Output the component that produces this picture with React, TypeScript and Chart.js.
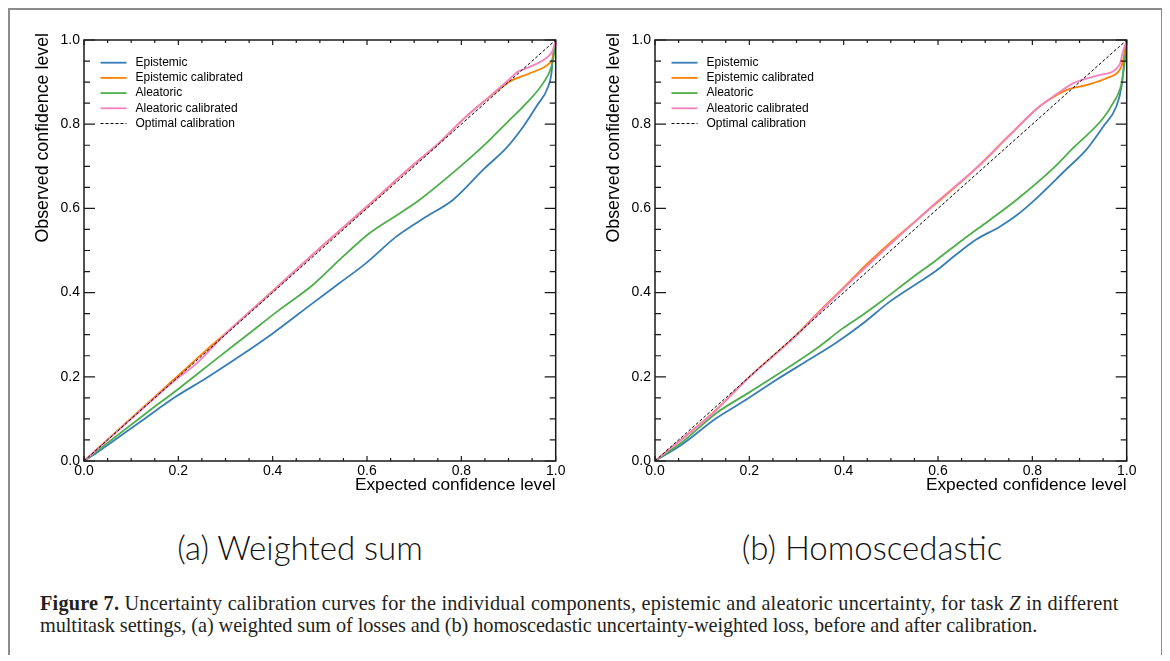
import React, { useEffect, useRef } from 'react';
import { Chart, registerables } from 'chart.js';

Chart.register(...registerables);

const SANS = "'Liberation Sans', Arial, Helvetica, sans-serif";

const seriesLabels = ['Epistemic', 'Epistemic calibrated', 'Aleatoric', 'Aleatoric calibrated', 'Optimal calibration'];
const seriesColors = ['#377eb8', '#ff7f00', '#4daf4a', '#f781bf', '#000000'];
const xAxisTitle = 'Expected confidence level';
const yAxisTitle = 'Observed confidence level';
const subTitles = ['(a) Weighted sum', '(b) Homoscedastic'];

// ---------- (a) Weighted sum ----------
const aEpiX = [0, 0.03, 0.124, 0.195, 0.258, 0.329, 0.4, 0.485, 0.541, 0.598, 0.662, 0.725, 0.782, 0.849, 0.895, 0.931, 0.959, 0.984, 0.991, 0.994, 0.998, 1.0];
const aEpiY = [0, 0.022, 0.097, 0.153, 0.196, 0.248, 0.303, 0.375, 0.422, 0.47, 0.533, 0.58, 0.62, 0.695, 0.743, 0.794, 0.842, 0.889, 0.921, 0.96, 0.985, 1.0];

const aEpiCalX = [0, 0.1, 0.2, 0.258, 0.3, 0.4, 0.5, 0.6, 0.69, 0.754, 0.81, 0.86, 0.902, 0.945, 0.987, 0.993, 1.0];
const aEpiCalY = [0, 0.102, 0.203, 0.262, 0.303, 0.404, 0.505, 0.604, 0.695, 0.757, 0.818, 0.865, 0.901, 0.921, 0.945, 0.955, 1.0];

const aAleX = [0, 0.131, 0.202, 0.287, 0.35, 0.414, 0.485, 0.541, 0.605, 0.669, 0.711, 0.793, 0.853, 0.895, 0.938, 0.973, 0.991, 0.997, 1.0];
const aAleY = [0, 0.113, 0.173, 0.248, 0.303, 0.359, 0.418, 0.477, 0.541, 0.588, 0.62, 0.695, 0.755, 0.802, 0.85, 0.897, 0.937, 0.97, 1.0];

const aAleCalX = [0, 0.1, 0.2, 0.237, 0.3, 0.4, 0.5, 0.6, 0.69, 0.754, 0.81, 0.86, 0.9, 0.92, 0.938, 0.987, 0.994, 1.0];
const aAleCalY = [0, 0.1, 0.198, 0.23, 0.302, 0.403, 0.506, 0.605, 0.696, 0.757, 0.818, 0.866, 0.905, 0.925, 0.933, 0.964, 0.976, 1.0];

// ---------- (b) Homoscedastic ----------
const bEpiX = [0, 0.058, 0.129, 0.185, 0.256, 0.327, 0.384, 0.44, 0.497, 0.553, 0.596, 0.638, 0.681, 0.73, 0.766, 0.801, 0.872, 0.914, 0.95, 0.978, 0.989, 0.996, 1.0];
const bEpiY = [0, 0.04, 0.101, 0.14, 0.192, 0.241, 0.281, 0.326, 0.378, 0.42, 0.452, 0.49, 0.526, 0.556, 0.583, 0.616, 0.693, 0.739, 0.794, 0.842, 0.889, 0.96, 1.0];

const bEpiCalX = [0, 0.129, 0.2, 0.299, 0.341, 0.398, 0.454, 0.497, 0.539, 0.596, 0.681, 0.752, 0.815, 0.851, 0.872, 0.914, 0.957, 0.985, 0.991, 1.0];
const bEpiCalY = [0, 0.121, 0.2, 0.299, 0.347, 0.41, 0.473, 0.517, 0.557, 0.612, 0.695, 0.774, 0.842, 0.869, 0.881, 0.893, 0.909, 0.929, 0.945, 1.0];

const bAleX = [0, 0.058, 0.129, 0.2, 0.27, 0.341, 0.398, 0.44, 0.483, 0.539, 0.596, 0.652, 0.709, 0.766, 0.844, 0.886, 0.95, 0.971, 0.989, 0.996, 1.0];
const bAleY = [0, 0.045, 0.113, 0.163, 0.213, 0.266, 0.315, 0.347, 0.382, 0.43, 0.477, 0.525, 0.572, 0.62, 0.695, 0.743, 0.814, 0.85, 0.897, 0.952, 1.0];

const bAleCalX = [0, 0.129, 0.164, 0.2, 0.299, 0.341, 0.398, 0.454, 0.497, 0.539, 0.596, 0.681, 0.752, 0.815, 0.851, 0.886, 0.943, 0.985, 0.991, 1.0];
const bAleCalY = [0, 0.12, 0.16, 0.199, 0.297, 0.345, 0.408, 0.468, 0.513, 0.556, 0.614, 0.696, 0.775, 0.842, 0.871, 0.897, 0.917, 0.941, 0.968, 1.0];

// ---------- Optimal calibration (both panels) ----------
const optimalX = [0, 1];
const optimalY = [0, 1];

type Series = { x: number[]; y: number[] };

const panelA: Series[] = [
  { x: aEpiX, y: aEpiY },
  { x: aEpiCalX, y: aEpiCalY },
  { x: aAleX, y: aAleY },
  { x: aAleCalX, y: aAleCalY },
  { x: optimalX, y: optimalY },
];
const panelB: Series[] = [
  { x: bEpiX, y: bEpiY },
  { x: bEpiCalX, y: bEpiCalY },
  { x: bAleX, y: bAleY },
  { x: bAleCalX, y: bAleCalY },
  { x: optimalX, y: optimalY },
];

function makeDatasets(series: Series[]) {
  return series.map((s, i) => ({
    label: seriesLabels[i],
    data: s.x.map((x, k) => ({ x, y: s.y[k] })),
    borderColor: seriesColors[i],
    backgroundColor: seriesColors[i],
    borderWidth: i === 4 ? 1 : 1.8,
    borderDash: i === 4 ? [3, 2] : [],
    pointRadius: 0,
    pointHoverRadius: 0,
    showLine: true,
    fill: false,
    cubicInterpolationMode: 'monotone',
    order: 4 - i,
  }));
}

const frameTicksLegend = {
  id: 'frameTicksLegend',
  afterDatasetsDraw(chart: any) {
    const { ctx, chartArea: ca, scales } = chart;
    const sx = scales.x;
    const sy = scales.y;
    ctx.save();
    ctx.setLineDash([]);
    ctx.strokeStyle = '#1a1a1a';
    ctx.lineWidth = 1.5;
    ctx.strokeRect(ca.left, ca.top, ca.right - ca.left, ca.bottom - ca.top);
    ctx.lineWidth = 1.2;
    ctx.beginPath();
    for (let i = 0; i <= 20; i++) {
      const v = i / 20;
      const major = i % 4 === 0;
      const px = sx.getPixelForValue(v);
      const py = sy.getPixelForValue(v);
      const lh = major ? 11 : 6;
      const lv = major ? 5 : 3;
      ctx.moveTo(ca.left, py);
      ctx.lineTo(ca.left + lh, py);
      ctx.moveTo(ca.right, py);
      ctx.lineTo(ca.right - lh, py);
      ctx.moveTo(px, ca.bottom);
      ctx.lineTo(px, ca.bottom - lv);
      ctx.moveTo(px, ca.top);
      ctx.lineTo(px, ca.top + lv);
    }
    ctx.stroke();

    // legend inside the axes
    const ds = chart.data.datasets;
    ctx.font = `12px ${SANS}`;
    ctx.textBaseline = 'middle';
    ctx.textAlign = 'left';
    ds.forEach((d: any, i: number) => {
      const y = ca.top + 22.7 + i * 15.2;
      ctx.beginPath();
      ctx.strokeStyle = d.borderColor;
      ctx.lineWidth = d.borderWidth;
      ctx.setLineDash(d.borderDash || []);
      ctx.moveTo(ca.left + 16.5, y);
      ctx.lineTo(ca.left + 42.5, y);
      ctx.stroke();
      ctx.fillStyle = '#000';
      ctx.fillText(d.label, ca.left + 51.5, y);
    });
    ctx.setLineDash([]);

    // y axis title (top aligned, rotated)
    ctx.translate(37.5, ca.top - 7);
    ctx.rotate(-Math.PI / 2);
    ctx.font = `17.8px ${SANS}`;
    ctx.textAlign = 'right';
    ctx.textBaseline = 'alphabetic';
    ctx.fillStyle = '#000';
    ctx.fillText(yAxisTitle, 0, 0);
    ctx.restore();
  },
};

function CalibrationPanel({ series }: { series: Series[] }) {
  const ref = useRef<HTMLCanvasElement | null>(null);
  useEffect(() => {
    if (!ref.current) return;
    const chart = new Chart(ref.current, {
      type: 'scatter',
      data: { datasets: makeDatasets(series) as any },
      options: {
        animation: false,
        responsive: false,
        maintainAspectRatio: false,
        devicePixelRatio: 1,
        events: [],
        layout: { padding: { top: 30, right: 24.3, left: 0, bottom: 0 } },
        plugins: { legend: { display: false }, tooltip: { enabled: false } },
        scales: {
          x: {
            type: 'linear',
            min: 0,
            max: 1,
            grid: { display: false, drawTicks: false },
            border: { display: false },
            ticks: {
              stepSize: 0.2,
              color: '#000',
              padding: 1.5,
              maxRotation: 0,
              autoSkip: false,
              font: { family: SANS, size: 14 },
              callback: (v: any) => Number(v).toFixed(1),
            },
            title: {
              display: true,
              text: xAxisTitle,
              align: 'end',
              color: '#000',
              font: { family: SANS, size: 17.3 },
              padding: { top: 0, bottom: 14.4 },
            },
            afterFit: (s: any) => {
              s.height = 49;
            },
          },
          y: {
            type: 'linear',
            min: 0,
            max: 1,
            grid: { display: false, drawTicks: false },
            border: { display: false },
            ticks: {
              stepSize: 0.2,
              color: '#000',
              padding: 4,
              autoSkip: false,
              font: { family: SANS, size: 14 },
              callback: (v: any) => Number(v).toFixed(1),
            },
            title: { display: false },
            afterFit: (s: any) => {
              s.width = 74;
            },
          },
        },
      } as any,
      plugins: [frameTicksLegend],
    });
    return () => chart.destroy();
  }, [series]);
  return <canvas ref={ref} width={570} height={500} style={{ width: 570, height: 500, display: 'block' }} />;
}

const subStyle: React.CSSProperties = {
  position: 'absolute',
  width: 400,
  top: 516,
  textAlign: 'center',
  fontFamily: "Lato, 'Open Sans', sans-serif",
  fontWeight: 300,
  fontSize: 33,
  lineHeight: '42px',
  color: '#111',
  whiteSpace: 'nowrap',
};

const capStyle: React.CSSProperties = {
  position: 'absolute',
  left: 30,
  fontFamily: "'Liberation Serif', 'Times New Roman', serif",
  fontSize: 20.3,
  lineHeight: '22px',
  color: '#231f20',
  whiteSpace: 'nowrap',
};

export default function App() {
  return (
    <div
      style={{
        position: 'relative',
        height: 645,
        border: '2px solid #8c8c8c',
        borderBottom: 'none',
        marginRight: -1,
        background: '#fff',
        overflow: 'hidden',
      }}
    >
      <div style={{ position: 'absolute', left: 0, top: 0 }}>
        <CalibrationPanel series={panelA} />
      </div>
      <div style={{ position: 'absolute', left: 571, top: 0 }}>
        <CalibrationPanel series={panelB} />
      </div>
      <div style={{ ...subStyle, left: 90 }}>{subTitles[0]}</div>
      <div style={{ ...subStyle, left: 662 }}>{subTitles[1]}</div>
      <div style={{ ...capStyle, top: 582, letterSpacing: '0.2px' }}>
        <b>Figure 7.</b> Uncertainty calibration curves for the individual components, epistemic and aleatoric
        uncertainty, for task <i>Z</i> in different
      </div>
      <div style={{ ...capStyle, top: 604, letterSpacing: '-0.07px' }}>
        multitask settings, (a) weighted sum of losses and (b) homoscedastic uncertainty-weighted loss, before and after
        calibration.
      </div>
    </div>
  );
}
